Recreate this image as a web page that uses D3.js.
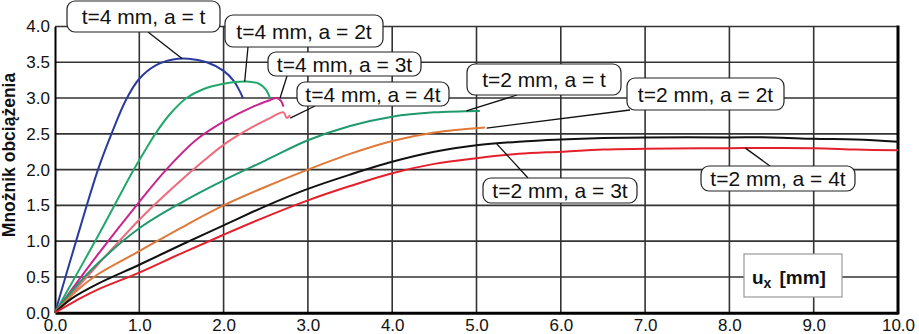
<!DOCTYPE html>
<html><head><meta charset="utf-8">
<script src="https://cdn.jsdelivr.net/npm/d3@7"></script>
<style>body{margin:0;background:#fff}svg{display:block}</style>
</head><body><div id="c"></div>
<script>
// ---- data ----
const xTicks = [0,1,2,3,4,5,6,7,8,9,10];
const yTicks = [0,0.5,1,1.5,2,2.5,3,3.5,4];
const seriesNames = ["t=4 mm, a = t","t=4 mm, a = 2t","t=4 mm, a = 3t","t=4 mm, a = 4t",
                     "t=2 mm, a = t","t=2 mm, a = 2t","t=2 mm, a = 3t","t=2 mm, a = 4t"];
const s_t4_a1 = [[0,0],[0.25,1.0],[0.51,2.0],[0.67,2.5],[0.84,2.97],[1.0,3.27],[1.2,3.46],[1.4,3.54],[1.58,3.55],[1.8,3.5],[2.0,3.38],[2.12,3.24],[2.19,3.1],[2.23,3.0]];
const s_t4_a2 = [[0,0],[0.5,1.05],[0.93,1.99],[1.07,2.27],[1.19,2.5],[1.36,2.77],[1.56,3.0],[1.75,3.12],[2.0,3.2],[2.27,3.23],[2.42,3.2],[2.5,3.12],[2.55,3.0]];
const s_t4_a3 = [[0,0],[0.5,0.8],[1.0,1.55],[1.32,2.0],[1.68,2.42],[2.0,2.67],[2.35,2.88],[2.55,2.97],[2.63,3.0],[2.68,2.96],[2.71,2.88]];
const s_t4_a4 = [[0,0],[0.5,0.66],[1.0,1.3],[1.4,1.75],[1.76,2.12],[2.04,2.38],[2.35,2.6],[2.55,2.72],[2.71,2.8],[2.75,2.72],[2.79,2.76]];
const s_t2_a1 = [[0,0],[0.2,0.3],[0.5,0.68],[1.0,1.18],[1.5,1.54],[2.0,1.85],[2.5,2.13],[3.0,2.41],[3.5,2.61],[4.0,2.74],[4.5,2.8],[5.04,2.82]];
const s_t2_a2 = [[0,0],[0.25,0.3],[0.5,0.53],[1.0,0.86],[1.5,1.19],[2.0,1.5],[2.5,1.76],[3.0,2.0],[3.5,2.22],[4.0,2.4],[4.5,2.52],[5.1,2.59]];
const s_t2_a3 = [[0,0],[0.2,0.2],[0.5,0.4],[1.0,0.67],[1.5,0.95],[2.0,1.22],[2.5,1.49],[3.0,1.73],[3.5,1.93],[4.0,2.11],[4.5,2.25],[5.0,2.34],[5.5,2.39],[6.0,2.42],[6.5,2.44],[7.0,2.45],[8.0,2.45],[8.5,2.45],[9.0,2.43],[9.5,2.42],[10,2.39]];
const s_t2_a4 = [[0,0],[0.25,0.17],[0.5,0.32],[1.0,0.56],[1.5,0.83],[2.0,1.09],[2.5,1.34],[3.0,1.57],[3.5,1.77],[4.0,1.95],[4.5,2.08],[5.0,2.16],[5.5,2.22],[6.0,2.25],[6.5,2.28],[7.0,2.29],[8.0,2.3],[9.0,2.3],[9.5,2.28],[10,2.27]];
const seriesData = [s_t4_a1,s_t4_a2,s_t4_a3,s_t4_a4,s_t2_a1,s_t2_a2,s_t2_a3,s_t2_a4];
// leader targets (data coordinates)
const leaderTargets = [[1.51,3.55],[2.25,3.23],[2.67,3.0],[2.79,2.72],[4.88,2.82],[5.12,2.58],[5.24,2.36],[8.19,2.30]];

// ---- styles / layout ----
const colors = ["#2a3b9e","#22a86c","#c8268e","#ef6a7c","#1f9a6c","#e07838","#111111","#e3202c"];
const boxes = [ // x, y, w, h, leader start x, y
  [67,1,153,31,148,32],[225,15,158,32,248,47],[268,52,153,24,287,76],[297,82,152,24,315,106],
  [467,64,154,31,517,95],[627,78,157,32,630,110],[483,178,154,25,528,178],[701,166,154,25,770,166]];

const W=919,H=334;
const svg=d3.select("#c").append("svg").attr("width",W).attr("height",H).style("font-family","'Liberation Sans',Arial,sans-serif");
const x=d3.scaleLinear().domain([0,10]).range([55,898]);
const y=d3.scaleLinear().domain([0,4]).range([312.7,26.5]);

// grid
svg.append("g").selectAll("line").data(xTicks.slice(1,-1)).join("line")
  .attr("x1",d=>x(d)).attr("x2",d=>x(d)).attr("y1",y(4)).attr("y2",y(0))
  .attr("stroke","#333").attr("stroke-width",1.6);
svg.append("g").selectAll("line").data(yTicks.slice(1)).join("line")
  .attr("x1",x(0)).attr("x2",x(10)).attr("y1",d=>y(d)).attr("y2",d=>y(d))
  .attr("stroke","#333").attr("stroke-width",1.6);

// axes
const xa=svg.append("g").attr("transform",`translate(0,${y(0)})`)
  .call(d3.axisBottom(x).tickValues(xTicks).tickSize(0).tickPadding(6).tickFormat(d3.format(".1f")));
xa.select(".domain").attr("stroke","#000").attr("stroke-width",3);
xa.selectAll("text").attr("font-size",17).attr("fill","#111").attr("font-family","'Liberation Sans',Arial,sans-serif");
const ya=svg.append("g").attr("transform",`translate(${x(0)},0)`)
  .call(d3.axisLeft(y).tickValues(yTicks).tickSize(0).tickPadding(5).tickFormat(d3.format(".1f")));
ya.select(".domain").attr("stroke","#000").attr("stroke-width",2);
ya.selectAll("text").attr("font-size",17).attr("fill","#111").attr("font-family","'Liberation Sans',Arial,sans-serif");
svg.append("line").attr("x1",x(10)).attr("x2",x(10)).attr("y1",y(4)-1).attr("y2",y(0)+1.5)
  .attr("stroke","#000").attr("stroke-width",3);

// y title
svg.append("text").attr("transform",`translate(15,155) rotate(-90)`).attr("text-anchor","middle")
  .attr("font-size",17.5).attr("font-weight","bold").attr("fill","#111").text("Mnożnik obciążenia");

// ux label box
const ub=svg.append("g");
ub.append("rect").attr("x",744).attr("y",254).attr("width",98).attr("height",43)
  .attr("fill","#fff").attr("stroke","#999").attr("stroke-width",1.2);
const ut=ub.append("text").attr("x",752).attr("y",284).attr("font-size",19).attr("font-weight","bold").attr("fill","#111");
ut.append("tspan").text("u");
ut.append("tspan").attr("dy",4).attr("font-size",14).text("x");
ut.append("tspan").attr("dy",-4).attr("dx",8).text("[mm]");

// curves
const line=d3.line().x(d=>x(d[0])).y(d=>y(d[1])).curve(d3.curveCatmullRom.alpha(0.5));
svg.append("g").selectAll("path").data(seriesData).join("path")
  .attr("d",line).attr("fill","none").attr("stroke",(d,i)=>colors[i]).attr("stroke-width",2)
  .attr("stroke-linejoin","round");

// leaders + labels
const lg=svg.append("g");
seriesNames.forEach((name,i)=>{
  const b=boxes[i], t=leaderTargets[i];
  lg.append("line").attr("x1",b[4]).attr("y1",b[5]).attr("x2",x(t[0])).attr("y2",y(t[1]))
    .attr("stroke","#111").attr("stroke-width",1.3);
});
seriesNames.forEach((name,i)=>{
  const b=boxes[i];
  lg.append("rect").attr("x",b[0]).attr("y",b[1]).attr("width",b[2]).attr("height",b[3])
    .attr("rx",8).attr("ry",8).attr("fill","#fff").attr("stroke","#222").attr("stroke-width",1.2);
  lg.append("text").attr("x",b[0]+b[2]/2).attr("y",b[1]+b[3]/2+7.5).attr("text-anchor","middle")
    .attr("font-size",21).attr("fill","#111").text(name);
});
</script></body></html>
